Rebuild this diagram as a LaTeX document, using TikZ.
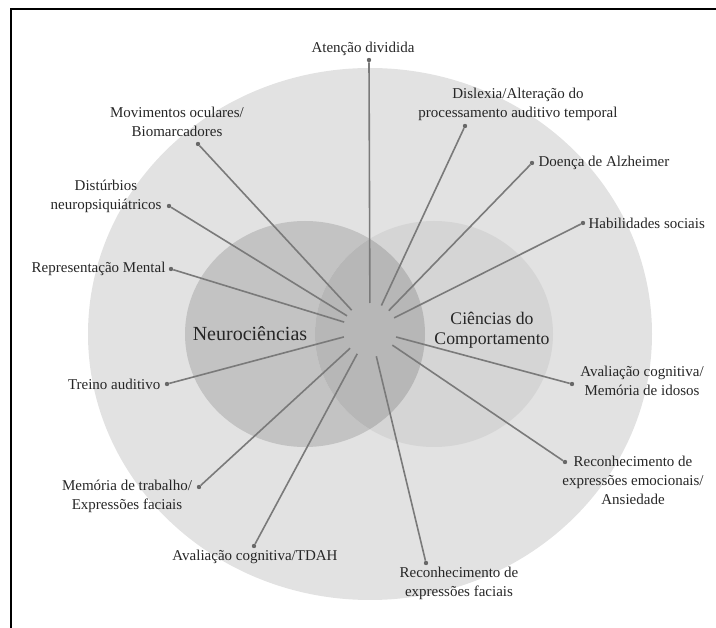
\documentclass[tikz,border=0pt]{standalone}
\usepackage{fontspec}
\setmainfont{Liberation Serif}
\usetikzlibrary{positioning}
\definecolor{outerc}{HTML}{E2E2E2}
\definecolor{leftc}{HTML}{C3C3C3}
\definecolor{rightc}{HTML}{D5D5D5}
\definecolor{lensc}{HTML}{B7B7B7}
\definecolor{spokec}{HTML}{7A7A7A}
\definecolor{inkc}{HTML}{262626}

\begin{document}
\begin{tikzpicture}[
  x=1pt,y=-1pt,
  lbl/.style={font=\fontsize{15}{19}\selectfont,text=inkc,inner sep=0pt,align=center},
  field/.style={font=\fontsize{17.7}{20}\selectfont,text=inkc,inner sep=0pt,align=center},
  endpt/.style={circle,fill=spokec!85!black,inner sep=0pt,minimum size=4.4pt},
  spoke/.style={draw=spokec,line width=1.6pt,shorten <=27pt},
]
\useasboundingbox (0,0) rectangle (716,628);
% frame
\draw[line width=2pt] (11,628) -- (11,9) -- (716,9);
% circles
\fill[outerc] (370,334) ellipse [x radius=282pt, y radius=266pt];
\fill[leftc] (305,334) ellipse [x radius=120pt, y radius=113pt];
\fill[rightc] (434,334) ellipse [x radius=119pt, y radius=113pt];
\begin{scope}
  \clip (305,334) ellipse [x radius=120pt, y radius=113pt];
  \fill[lensc] (434,334) ellipse [x radius=119pt, y radius=113pt];
\end{scope}
\coordinate (hub) at (370,330);
\node[field, font=\fontsize{20}{24}\selectfont, anchor=base] (neuro) at (250,341) {Neurociências};
\node[field] (comp) at (492,330) {Ciências do\\Comportamento};

% end points
\node[endpt] (dAten) at (369,60) {};
\node[endpt] (dDisl) at (465,126) {};
\node[endpt] (dAlz)  at (532,163) {};
\node[endpt] (dHab)  at (583,223) {};
\node[endpt] (dIdos) at (572,384) {};
\node[endpt] (dEmoc) at (565,462) {};
\node[endpt] (dFac)  at (426,563) {};
\node[endpt] (dTdah) at (254,546) {};
\node[endpt] (dTrab) at (199,487) {};
\node[endpt] (dTrei) at (167,384) {};
\node[endpt] (dRepr) at (171,269) {};
\node[endpt] (dDist) at (169,206) {};
\node[endpt] (dMov)  at (198,144) {};

% labels
\node[lbl, anchor=base] (tAten) at (363,53) {Atenção dividida};
\node[lbl] (tDisl) at (518,104) {Dislexia/Alteração do\\processamento auditivo temporal};
\node[lbl, right=4pt of dAlz] (tAlz) {Doença de Alzheimer};
\node[lbl, right=3pt of dHab] (tHab) {Habilidades sociais};
\node[lbl] (tIdos) at (642,381) {Avaliação cognitiva/\\Memória de idosos};
\node[lbl] (tEmoc) at (633,480) {Reconhecimento de\\expressões emocionais/\\Ansiedade};
\node[lbl] (tFac) at (459,583) {Reconhecimento de\\expressões faciais};
\node[lbl, anchor=base] (tTdah) at (255,561) {Avaliação cognitiva/TDAH};
\node[lbl] (tTrab) at (127,496) {Memória de trabalho/\\Expressões faciais};
\node[lbl, left=4pt of dTrei] (tTrei) {Treino auditivo};
\node[lbl, left=3pt of dRepr] (tRepr) {Representação Mental};
\node[lbl] (tDist) at (106,196) {Distúrbios\\neuropsiquiátricos};
\node[lbl] (tMov) at (177,122) {Movimentos oculares/\\Biomarcadores};

% spokes
\draw[spoke] (hub) -- (dAten);
\draw[spoke] (hub) -- (dDisl);
\draw[spoke] (hub) -- (dAlz);
\draw[spoke] (hub) -- (dHab);
\draw[spoke] (hub) -- (dIdos);
\draw[spoke] (hub) -- (dEmoc);
\draw[spoke] (hub) -- (dFac);
\draw[spoke] (hub) -- (dTdah);
\draw[spoke] (hub) -- (dTrab);
\draw[spoke] (hub) -- (dTrei);
\draw[spoke] (hub) -- (dRepr);
\draw[spoke] (hub) -- (dDist);
\draw[spoke] (hub) -- (dMov);
\end{tikzpicture}
\end{document}
